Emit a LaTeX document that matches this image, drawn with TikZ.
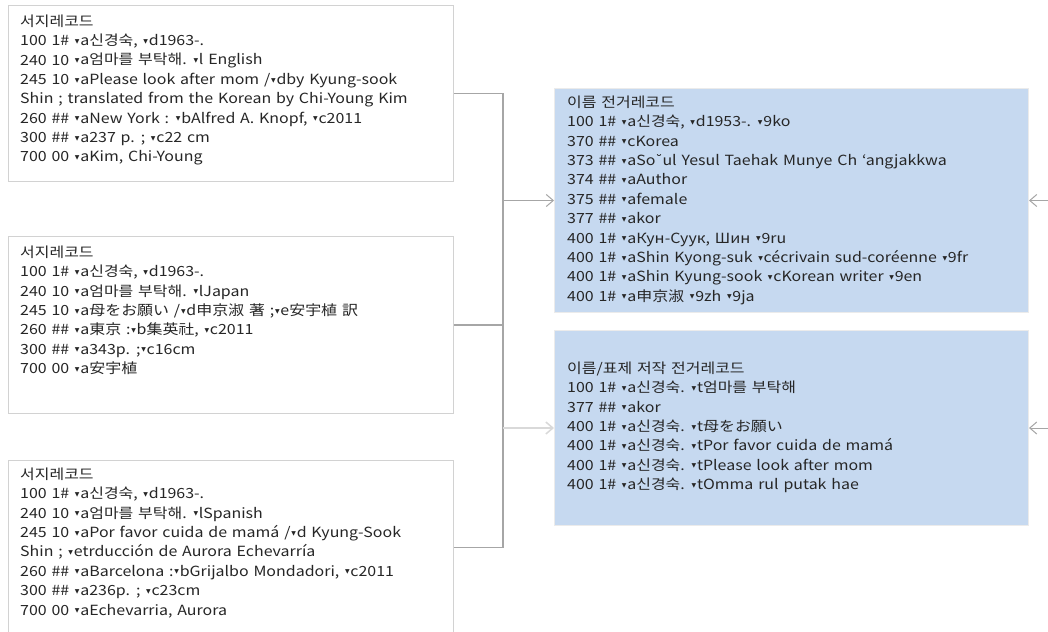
\documentclass[tikz,border=0pt]{standalone}
\usepackage{fontspec}
\setmainfont{Noto Sans CJK KR}[FakeStretch=1.14,WordSpace=1.35]
\newfontfamily\symf{DejaVu Sans}
\usetikzlibrary{arrows.meta}
\definecolor{boxblue}{RGB}{198,217,240}
\definecolor{lineg}{RGB}{166,166,166}
\definecolor{lightg}{RGB}{217,217,217}
\definecolor{bord}{RGB}{210,210,210}
\newcommand\sd{\hspace{0.8pt}\raisebox{0.3ex}{\symf\fontsize{6}{6}\selectfont ▼}\hspace{0.8pt}}
\newcommand\brv{{\symf ˘}}
\tikzset{
  leftbox/.style={draw=bord, line width=1pt, fill=white, anchor=north west, inner sep=0pt},
  rightbox/.style={draw=black!8, line width=1pt, fill=boxblue, anchor=north west, inner sep=0pt},
  rec/.style={anchor=north west, inner sep=0pt, align=left, text=black!85,
    font={\fontsize{14}{19.4}\selectfont}},
  conn/.style={draw=lineg, line width=1.5pt},
  arr/.style={draw=lineg, line width=1pt, -{Straight Barb[length=7pt,width=12pt]}},
  larr/.style={draw=lightg, line width=1.5pt, -{Straight Barb[length=7pt,width=12pt]}},
  rarr/.style={draw=lineg, line width=1pt, -{Straight Barb[length=7pt,width=12pt]}}
}
\newcommand\st{\rule{0pt}{14pt}}
\begin{document}
\begin{tikzpicture}[x=1pt,y=-1pt]
\useasboundingbox (0,0) rectangle (1048,631);
\fill[white] (0,0) rectangle (1048,631);
% left boxes
\node[leftbox, minimum width=445pt, minimum height=176pt] (b1) at (8,5) {};
\node[leftbox, minimum width=445pt, minimum height=177pt] (b2) at (8,236) {};
\node[leftbox, minimum width=445pt, minimum height=174pt] (b3) at (8,460) {};
% right boxes
\node[rightbox, minimum width=474pt, minimum height=224pt] (r1) at (554,88) {};
\node[rightbox, minimum width=474pt, minimum height=195pt] (r2) at (554,330) {};
% texts
\node[rec] (t1) at (20,12) {\st 서지레코드\\
100 1\# \sd a신경숙, \sd d1963-.\\
240 10 \sd a엄마를 부탁해. \sd l English\\
245 10 \sd aPlease look after mom /\sd dby Kyung-sook\\
Shin ; translated from the Korean by Chi-Young Kim\\
260 \#\# \sd aNew York : \sd bAlfred A. Knopf, \sd c2011\\
300 \#\# \sd a237 p. ; \sd c22 cm\\
700 00 \sd aKim, Chi-Young};
\node[rec] (t2) at (20,243) {\st 서지레코드\\
100 1\# \sd a신경숙, \sd d1963-.\\
240 10 \sd a엄마를 부탁해. \sd lJapan\\
245 10 \sd a母をお願い /\sd d申京淑 著 ;\sd e安宇植 訳\\
260 \#\# \sd a東京 :\sd b集英社, \sd c2011\\
300 \#\# \sd a343p. ;\sd c16cm\\
700 00 \sd a安宇植};
\node[rec] (t3) at (20,465) {\st 서지레코드\\
100 1\# \sd a신경숙, \sd d1963-.\\
240 10 \sd a엄마를 부탁해. \sd lSpanish\\
245 10 \sd aPor favor cuida de mamá /\sd d Kyung-Sook\\
Shin ; \sd etrducción de Aurora Echevarría\\
260 \#\# \sd aBarcelona :\sd bGrijalbo Mondadori, \sd c2011\\
300 \#\# \sd a236p. ; \sd c23cm\\
700 00 \sd aEchevarria, Aurora};
\node[rec] (t4) at (567,93) {\st 이름 전거레코드\\
100 1\# \sd a신경숙, \sd d1953-. \sd 9ko\\
370 \#\# \sd cKorea\\
373 \#\# \sd aSo\brv ul Yesul Taehak Munye Ch ‘angjakkwa\\
374 \#\# \sd aAuthor\\
375 \#\# \sd afemale\\
377 \#\# \sd akor\\
400 1\# \sd aКун-Суук, Шин \sd 9ru\\
400 1\# \sd aShin Kyong-suk \sd cécrivain sud-coréenne \sd 9fr\\
400 1\# \sd aShin Kyung-sook \sd cKorean writer \sd 9en\\
400 1\# \sd a申京淑 \sd 9zh \sd 9ja};
\node[rec] (t5) at (567,359) {\st 이름/표제 저작 전거레코드\\
100 1\# \sd a신경숙. \sd t엄마를 부탁해\\
377 \#\# \sd akor\\
400 1\# \sd a신경숙. \sd t母をお願い\\
400 1\# \sd a신경숙. \sd tPor favor cuida de mamá\\
400 1\# \sd a신경숙. \sd tPlease look after mom\\
400 1\# \sd a신경숙. \sd tOmma rul putak hae};
% connectors
\coordinate (jx) at (503,0);
\coordinate (ra) at (1048,0);
\draw[conn] (b1.east) -- (b1.east -| jx) -- (b3.east -| jx) -- (b3.east);
\draw[conn] (b2.east) -- (b2.east -| jx);
\draw[arr] (r1.west -| jx) -- (r1.west);
\draw[larr] (r2.west -| jx) -- (r2.west);
\draw[rarr] (r1.east -| ra) -- (r1.east);
\draw[rarr] (r2.east -| ra) -- (r2.east);
\end{tikzpicture}
\end{document}
